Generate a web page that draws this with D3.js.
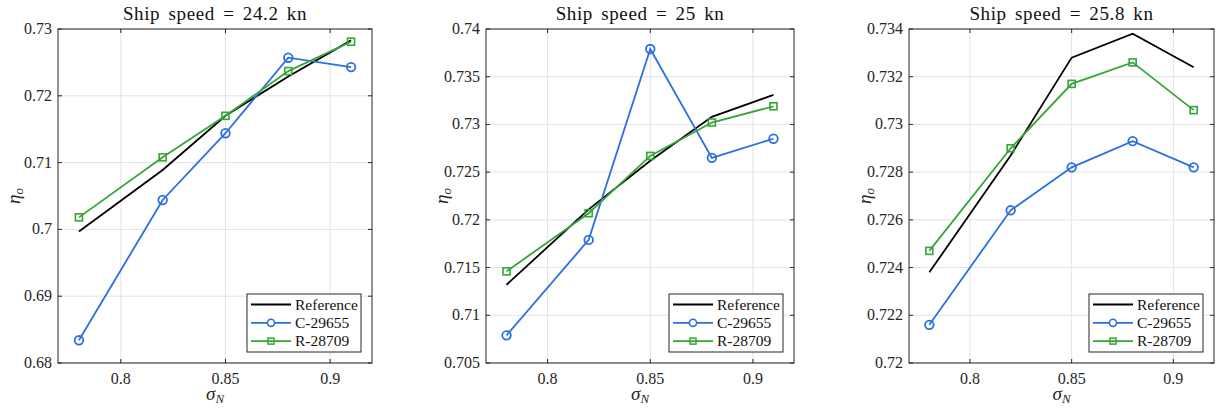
<!DOCTYPE html>
<html>
<head>
<meta charset="UTF-8">
<script src="https://d3js.org/d3.v7.min.js"></script>
</head>
<body style="margin:0">
<script>
// data
const sigmaN = [0.78, 0.82, 0.85, 0.88, 0.91];
const speeds = ["24.2", "25", "25.8"];
const seriesNames = ["Reference", "C-29655", "R-28709"];

const ref242 = [0.6997, 0.7089, 0.7170, 0.7229, 0.7283];
const c242   = [0.6834, 0.7044, 0.7144, 0.7257, 0.7243];
const r242   = [0.7018, 0.7108, 0.7170, 0.7237, 0.7281];

const ref25 = [0.7132, 0.7211, 0.7262, 0.7308, 0.7331];
const c25   = [0.7079, 0.7179, 0.7379, 0.7265, 0.7285];
const r25   = [0.7146, 0.7207, 0.7267, 0.7302, 0.7319];

const ref258 = [0.7238, 0.7287, 0.7328, 0.7338, 0.7324];
const c258   = [0.7216, 0.7264, 0.7282, 0.7293, 0.7282];
const r258   = [0.7247, 0.7290, 0.7317, 0.7326, 0.7306];

const xTicks = [0.8, 0.85, 0.9];
const yTicks1 = [0.68, 0.69, 0.7, 0.71, 0.72, 0.73];
const yTicks2 = [0.705, 0.71, 0.715, 0.72, 0.725, 0.73, 0.735, 0.74];
const yTicks3 = [0.72, 0.722, 0.724, 0.726, 0.728, 0.73, 0.732, 0.734];

const panels = [
  {speed: speeds[0], data: [ref242, c242, r242], yd: [0.68, 0.73], yt: yTicks1, left: 58, right: 372},
  {speed: speeds[1], data: [ref25, c25, r25], yd: [0.705, 0.74], yt: yTicks2, left: 486, right: 794},
  {speed: speeds[2], data: [ref258, c258, r258], yd: [0.72, 0.734], yt: yTicks3, left: 909, right: 1214}
];
const colors = ["#000000", "#2b6fe6", "#35a535"];
const plotTop = 29, plotBottom = 363;
const serif = "Liberation Serif";
const BASE = 24; // text is set at 24px and scaled down to the wanted size

function txt(g, x, y, size, rot) {
  const s = size / BASE;
  return g.append("text")
    .attr("transform", `translate(${x},${y})${rot ? " rotate(" + rot + ")" : ""} scale(${s})`)
    .attr("font-size", BASE).attr("font-family", serif).attr("fill", "#262626");
}

const svg = d3.select("body").append("svg").attr("width", 1221).attr("height", 410);

panels.forEach(p => {
  const x = d3.scaleLinear().domain([0.77, 0.92]).range([p.left, p.right]);
  const y = d3.scaleLinear().domain(p.yd).range([plotBottom, plotTop]);
  const g = svg.append("g");

  // grid
  g.selectAll(".gx").data(xTicks).enter().append("line")
    .attr("x1", d => x(d)).attr("x2", d => x(d)).attr("y1", plotTop).attr("y2", plotBottom)
    .attr("stroke", "#e3e3e3").attr("stroke-width", 1);
  g.selectAll(".gy").data(p.yt).enter().append("line")
    .attr("x1", p.left).attr("x2", p.right).attr("y1", d => y(d)).attr("y2", d => y(d))
    .attr("stroke", "#e3e3e3").attr("stroke-width", 1);

  // box with inward ticks
  g.append("rect").attr("x", p.left).attr("y", plotTop)
    .attr("width", p.right - p.left).attr("height", plotBottom - plotTop)
    .attr("fill", "none").attr("stroke", "#262626").attr("stroke-width", 1);
  xTicks.forEach(t => {
    g.append("line").attr("x1", x(t)).attr("x2", x(t)).attr("y1", plotBottom).attr("y2", plotBottom - 4).attr("stroke", "#262626");
    g.append("line").attr("x1", x(t)).attr("x2", x(t)).attr("y1", plotTop).attr("y2", plotTop + 4).attr("stroke", "#262626");
    txt(g, x(t), plotBottom + 21, 16).attr("text-anchor", "middle").text(String(t));
  });
  p.yt.forEach(t => {
    g.append("line").attr("x1", p.left).attr("x2", p.left + 4).attr("y1", y(t)).attr("y2", y(t)).attr("stroke", "#262626");
    g.append("line").attr("x1", p.right).attr("x2", p.right - 4).attr("y1", y(t)).attr("y2", y(t)).attr("stroke", "#262626");
    txt(g, p.left - 6, y(t) + 5, 16).attr("text-anchor", "end").text(String(t));
  });

  // lines
  const line = d3.line().x((d, i) => x(sigmaN[i])).y(d => y(d));
  p.data.forEach((s, k) => {
    g.append("path").datum(s).attr("d", line)
      .attr("fill", "none").attr("stroke", colors[k]).attr("stroke-width", 1.8);
  });
  // markers
  g.selectAll(".circ").data(p.data[1]).enter().append("circle")
    .attr("cx", (d, i) => x(sigmaN[i])).attr("cy", d => y(d)).attr("r", 4.3)
    .attr("fill", "none").attr("stroke", colors[1]).attr("stroke-width", 1.8);
  g.selectAll(".sq").data(p.data[2]).enter().append("rect")
    .attr("x", (d, i) => x(sigmaN[i]) - 3.5).attr("y", d => y(d) - 3.5)
    .attr("width", 7).attr("height", 7)
    .attr("fill", "none").attr("stroke", colors[2]).attr("stroke-width", 1.6);

  // title and labels
  const cx = (p.left + p.right) / 2;
  txt(g, cx, 20, 19).attr("text-anchor", "middle").attr("fill", "#111")
    .attr("letter-spacing", 0.76).attr("word-spacing", 3.8)
    .text(`Ship speed = ${p.speed} kn`);
  txt(g, cx, 400, 19).attr("text-anchor", "middle").attr("font-style", "italic")
    .html("σ<tspan font-size='0.68em' dy='0.21em'>N</tspan>");
  txt(g, p.left - 38, (plotTop + plotBottom) / 2, 19, -90)
    .attr("text-anchor", "middle").attr("font-style", "italic")
    .html("η<tspan font-size='0.68em' dy='0.21em'>o</tspan>");

  // legend
  const lw = 114, lh = 58;
  const lx = p.right - 11 - lw, ly = plotBottom - 11 - lh;
  const lg = g.append("g").attr("transform", `translate(${lx},${ly})`);
  lg.append("rect").attr("width", lw).attr("height", lh)
    .attr("fill", "#fff").attr("stroke", "#262626").attr("stroke-width", 1);
  seriesNames.forEach((n, k) => {
    const yy = 10.5 + k * 18.3;
    lg.append("line").attr("x1", 4).attr("x2", 44).attr("y1", yy).attr("y2", yy)
      .attr("stroke", colors[k]).attr("stroke-width", 1.8);
    if (k === 1) lg.append("circle").attr("cx", 24).attr("cy", yy).attr("r", 3.6)
      .attr("fill", "#fff").attr("stroke", colors[1]).attr("stroke-width", 1.6);
    if (k === 2) lg.append("rect").attr("x", 21).attr("y", yy - 3).attr("width", 6).attr("height", 6)
      .attr("fill", "none").attr("stroke", colors[2]).attr("stroke-width", 1.5);
    txt(lg, 48, yy + 5, 15.5).attr("fill", "#111").text(n);
  });
});
</script>
</body>
</html>
